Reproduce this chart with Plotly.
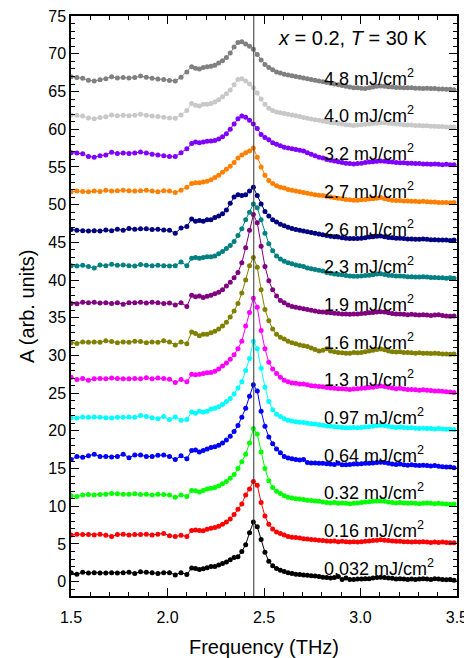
import plotly.graph_objects as go

# ---------------- data ----------------
FREQ = [1.50, 1.53, 1.56, 1.59, 1.62, 1.65, 1.68, 1.71, 1.74, 1.77, 1.80, 1.83, 1.86, 1.89, 1.92, 1.95, 1.98, 2.01, 2.04, 2.07, 2.10,
        2.125, 2.145, 2.165, 2.185, 2.205, 2.225, 2.245, 2.265, 2.285, 2.305,
        2.325, 2.345, 2.365, 2.385, 2.405, 2.425, 2.445, 2.465, 2.485, 2.505,
        2.525, 2.545, 2.565, 2.585, 2.605, 2.625, 2.645, 2.665, 2.685, 2.705,
        2.725, 2.745, 2.765, 2.785, 2.805, 2.825, 2.845, 2.865, 2.885, 2.905,
        2.925, 2.945, 2.965, 2.985, 3.005, 3.025, 3.045, 3.065, 3.085, 3.105,
        3.125, 3.145, 3.165, 3.185, 3.205, 3.225, 3.245, 3.265, 3.285, 3.305,
        3.325, 3.345, 3.365, 3.385, 3.405, 3.425, 3.445, 3.465, 3.485]

A_0032 = [1.2, 1.0, 1.25, 1.15, 1.2, 1.15, 1.15, 1.2, 1.15, 1.2, 1.25, 1.1, 1.3, 1.25, 1.2, 1.1, 1.2, 1.2, 0.9, 1.2, 0.95,
          1.8, 1.75, 1.6, 1.7, 1.85, 2.0, 2.0, 2.2, 2.4, 2.6,
          2.9, 3.2, 3.3, 4.0, 4.9, 6.5, 7.9, 7.3, 5.6, 3.9,
          2.7, 2.1, 1.75, 1.5, 1.35, 1.2, 1.1, 1.0, 0.95, 0.9,
          0.85, 0.8, 0.75, 0.7, 0.6, 0.55, 0.5, 0.55, 0.7, 0.3,
          0.5, 0.3, 0.3, 0.35, 0.35, 0.4, 0.4, 0.5, 0.55, 0.6,
          0.55, 0.5, 0.45, 0.35, 0.4, 0.35, 0.3, 0.35, 0.3, 0.35,
          0.4, 0.35, 0.3, 0.4, 0.35, 0.3, 0.25, 0.3, 0.2]

A_016 = [6.2, 6.3, 6.25, 6.25, 6.2, 6.3, 6.15, 6.0, 6.25, 6.3, 6.2, 6.25, 6.25, 6.3, 6.2, 6.3, 6.4, 6.1, 6.0, 6.15, 6.0,
         6.8, 6.85, 6.8, 6.75, 6.95, 7.1, 7.2, 7.35, 7.6, 7.9,
         8.3, 8.9, 9.6, 10.3, 11.5, 12.3, 13.3, 12.8, 10.5, 8.7,
         7.6, 7.0, 6.6, 6.4, 6.2, 6.0, 5.9, 5.85, 5.8, 5.7,
         5.65, 5.6, 5.55, 5.5, 5.45, 5.4, 5.35, 5.4, 5.3, 5.35,
         5.3, 5.25, 5.3, 5.25, 5.3, 5.35, 5.4, 5.45, 5.5, 5.55,
         5.5, 5.45, 5.4, 5.35, 5.35, 5.3, 5.3, 5.25, 5.3, 5.25,
         5.3, 5.25, 5.2, 5.25, 5.2, 5.25, 5.2, 5.15, 5.15]

A_032 = [11.4, 11.3, 11.5, 11.55, 11.5, 11.55, 11.6, 11.7, 11.65, 11.6, 11.6, 11.65, 11.55, 11.6, 11.5, 11.6, 11.55, 11.5, 11.2, 11.5, 11.3,
         12.1, 12.05, 11.9, 12.1, 12.3, 12.4, 12.5, 12.7, 13.0, 13.3,
         13.7, 14.2, 15.0, 15.9, 16.9, 18.4, 20.3, 19.6, 17.2, 15.0,
         13.4, 12.5, 12.0, 11.7, 11.4, 11.2, 11.1, 11.0, 10.95, 10.9,
         10.8, 10.75, 10.7, 10.65, 10.55, 10.5, 10.45, 10.5, 10.4, 10.45,
         10.4, 10.35, 10.4, 10.45, 10.5, 10.55, 10.6, 10.65, 10.7, 10.7,
         10.65, 10.55, 10.5, 10.45, 10.5, 10.45, 10.4, 10.45, 10.4, 10.35,
         10.4, 10.45, 10.4, 10.35, 10.4, 10.35, 10.3, 10.25, 10.3]

A_064 = [16.2, 16.6, 16.5, 16.7, 16.9, 16.6, 16.6, 16.55, 16.6, 16.9, 16.45, 16.8, 16.8, 16.6, 16.6, 16.75, 16.8, 16.6, 16.2, 16.7, 16.3,
         17.4, 17.45, 17.2, 17.4, 17.6, 17.8, 17.9, 18.1, 18.4, 18.8,
         19.3, 19.9, 20.7, 21.8, 23.0, 24.6, 26.1, 25.3, 22.6, 20.6,
         19.2, 18.3, 17.6, 17.1, 16.6, 16.4, 16.3, 16.2, 16.15, 16.2,
         15.8, 15.75, 15.75, 15.7, 15.7, 15.65, 15.6, 15.55, 15.7, 15.5,
         15.5, 15.55, 15.6, 15.6, 15.65, 15.7, 15.7, 15.75, 15.8, 15.85,
         15.8, 15.7, 15.6, 15.55, 15.6, 15.5, 15.45, 15.5, 15.45, 15.4,
         15.45, 15.4, 15.35, 15.4, 15.3, 15.25, 15.2, 15.2, 15.1]

A_097 = [21.75, 21.7, 21.85, 21.8, 21.85, 21.8, 21.75, 21.7, 21.8, 21.8, 21.85, 21.8, 22.05, 21.9, 21.75, 21.6, 21.9, 21.5, 21.85, 21.4, 21.5,
         22.5, 22.35, 22.6, 22.5, 22.6, 22.9, 23.0, 23.2, 23.5, 23.9,
         24.3, 24.9, 25.7, 26.5, 28.0, 29.6, 31.9, 30.9, 28.3, 25.8,
         23.9, 22.8, 22.2, 21.9, 21.6, 21.4, 21.3, 21.2, 21.15, 21.1,
         21.0, 20.95, 20.9, 20.8, 20.75, 20.65, 20.6, 20.55, 20.5, 20.45,
         20.4, 20.4, 20.45, 20.4, 20.45, 20.5, 20.55, 20.6, 20.7, 20.75,
         20.7, 20.6, 20.5, 20.45, 20.5, 20.45, 20.4, 20.4, 20.35, 20.3,
         20.35, 20.3, 20.3, 20.25, 20.3, 20.25, 20.2, 20.2, 20.15]

A_13 = [27.1, 26.8, 26.95, 26.7, 26.9, 26.95, 26.9, 27.0, 26.95, 26.9, 26.9, 26.95, 26.9, 27.05, 26.9, 27.0, 26.95, 26.85, 26.4, 26.8, 26.5,
        27.5, 27.45, 27.5, 27.6, 27.7, 27.75, 27.9, 28.2, 28.6, 29.0,
        29.5, 30.1, 30.9, 31.9, 33.9, 35.7, 37.6, 36.4, 33.3, 30.9,
        29.1, 28.2, 27.6, 27.1, 26.7, 26.5, 26.35, 26.3, 26.2, 26.2,
        26.1, 26.0, 25.95, 25.9, 25.85, 25.75, 25.7, 25.65, 25.6, 25.6,
        25.55, 25.5, 25.55, 25.6, 25.65, 25.7, 25.75, 25.8, 25.9, 25.95,
        25.9, 25.8, 25.7, 25.6, 25.65, 25.55, 25.5, 25.5, 25.45, 25.4,
        25.45, 25.4, 25.35, 25.3, 25.3, 25.25, 25.2, 25.15, 25.1]

A_16 = [31.7, 31.6, 31.8, 31.75, 31.8, 31.75, 31.95, 31.85, 31.7, 31.8, 31.75, 31.9, 31.85, 31.7, 31.8, 31.75, 31.95, 31.8, 31.4, 31.8, 31.55,
        33.1, 32.9, 32.6, 32.8, 32.8, 33.0, 33.2, 33.5, 33.9, 34.4,
        35.1, 35.9, 36.9, 38.3, 40.0, 41.9, 43.0, 41.7, 38.7, 36.1,
        34.6, 33.5, 32.8, 32.4, 32.2, 31.9, 31.7, 31.55, 31.4, 31.3,
        31.2, 31.0, 30.8, 30.6, 30.7, 30.9, 30.6, 30.5, 30.4, 30.35,
        30.3, 30.3, 30.4, 30.35, 30.4, 30.5, 30.6, 30.7, 30.8, 30.85,
        30.75, 30.6, 30.5, 30.45, 30.5, 30.4, 30.4, 30.35, 30.3, 30.35,
        30.3, 30.3, 30.25, 30.3, 30.25, 30.2, 30.2, 30.15, 30.2]

A_19 = [36.9, 36.85, 37.05, 37.0, 37.05, 36.95, 37.0, 36.9, 37.0, 36.8, 37.0, 37.0, 37.05, 36.95, 37.05, 37.0, 36.9, 36.95, 36.7, 37.0, 36.5,
        38.0, 37.8, 37.9, 37.7, 37.85, 38.0, 38.2, 38.4, 38.7, 39.2,
        39.7, 40.3, 41.0, 42.3, 44.3, 46.6, 48.7, 47.6, 44.5, 41.8,
        39.9, 38.7, 37.9, 37.3, 37.0, 36.7, 36.5, 36.4, 36.3, 36.2,
        36.1, 36.0, 35.9, 35.8, 35.75, 35.7, 35.65, 35.6, 35.55, 35.5,
        35.5, 35.45, 35.5, 35.5, 35.55, 35.6, 35.65, 35.7, 35.75, 35.8,
        35.75, 35.65, 35.55, 35.5, 35.5, 35.45, 35.4, 35.45, 35.4, 35.35,
        35.4, 35.35, 35.3, 35.35, 35.4, 35.3, 35.25, 35.2, 35.25]

A_23 = [41.9, 41.85, 41.95, 41.8, 41.6, 42.0, 41.9, 42.1, 41.95, 42.0, 41.9, 41.85, 42.05, 41.95, 41.9, 41.95, 41.9, 41.85, 41.9, 42.4, 41.9,
        42.9, 43.0, 42.9, 43.0, 43.1, 43.1, 43.2, 43.5, 43.8, 44.2,
        44.6, 45.1, 45.9, 46.8, 48.0, 49.0, 50.1, 49.6, 48.0, 46.2,
        44.8, 43.9, 43.2, 42.8, 42.5, 42.3, 42.15, 42.0, 41.9, 41.8,
        41.6, 41.5, 41.4, 41.3, 41.2, 41.0, 40.9, 40.8, 40.75, 40.7,
        40.6, 40.55, 40.5, 40.5, 40.55, 40.6, 40.65, 40.7, 40.8, 40.85,
        40.75, 40.65, 40.6, 40.55, 40.55, 40.5, 40.45, 40.45, 40.4, 40.4,
        40.45, 40.4, 40.35, 40.35, 40.3, 40.3, 40.25, 40.3, 40.25]

A_26 = [46.7, 46.6, 46.55, 46.5, 46.55, 46.5, 46.65, 46.55, 46.75, 46.6, 46.85, 46.75, 46.8, 46.8, 46.7, 46.75, 46.65, 46.6, 46.2, 46.9, 47.1,
        48.1, 47.8, 47.9, 47.8, 48.0, 48.0, 48.3, 48.5, 48.8, 49.3,
        50.2, 51.0, 51.3, 51.2, 51.3, 51.8, 52.3, 51.2, 50.1, 49.1,
        48.5, 48.0, 47.7, 47.4, 47.2, 47.0, 46.85, 46.7, 46.6, 46.5,
        46.4, 46.3, 46.2, 46.1, 46.0, 45.9, 45.8, 45.75, 45.7, 45.6,
        45.55, 45.5, 45.5, 45.5, 45.55, 45.6, 45.7, 45.75, 45.8, 45.85,
        45.75, 45.65, 45.6, 45.55, 45.55, 45.5, 45.45, 45.45, 45.4, 45.4,
        45.45, 45.4, 45.35, 45.35, 45.3, 45.3, 45.3, 45.25, 45.3]

A_27 = [51.7, 51.8, 51.75, 51.7, 51.8, 51.75, 51.9, 51.8, 51.85, 51.9, 51.85, 51.8, 51.85, 51.9, 51.8, 51.7, 51.85, 51.8, 51.6, 51.9, 52.3,
        52.8, 52.9, 52.9, 53.0, 53.1, 53.3, 53.6, 53.9, 54.3, 54.7,
        55.1, 55.6, 56.2, 56.6, 56.9, 57.1, 57.5, 56.3, 55.0, 53.9,
        53.2, 52.8, 52.5, 52.3, 52.2, 52.0, 51.9, 51.8, 51.7, 51.6,
        51.5, 51.4, 51.3, 51.25, 51.2, 51.1, 51.0, 50.9, 50.85, 50.8,
        50.7, 50.65, 50.6, 50.6, 50.65, 50.7, 50.75, 50.8, 50.85, 50.95,
        50.8, 50.7, 50.6, 50.55, 50.55, 50.5, 50.5, 50.45, 50.45, 50.4,
        50.45, 50.4, 50.35, 50.35, 50.3, 50.3, 50.3, 50.25, 50.3]

A_32 = [56.9, 56.85, 56.75, 56.4, 56.3, 56.5, 56.6, 56.95, 56.8, 56.85, 56.8, 56.85, 57.0, 56.85, 56.7, 56.6, 56.5, 56.4, 56.4, 56.9, 57.4,
        58.1, 58.3, 58.2, 58.3, 58.4, 58.45, 58.5, 58.7, 59.0, 59.4,
        60.0, 60.7, 61.4, 61.75, 61.6, 61.2, 60.7, 60.1, 59.3, 58.9,
        58.6, 58.2, 58.0, 57.8, 57.6, 57.5, 57.4, 57.3, 57.2, 57.1,
        56.9, 56.7, 56.5, 56.3, 56.2, 56.0, 55.9, 55.8, 55.7, 55.6,
        55.5, 55.45, 55.4, 55.45, 55.5, 55.6, 55.65, 55.7, 55.75, 55.8,
        55.75, 55.7, 55.65, 55.6, 55.55, 55.55, 55.5, 55.5, 55.45, 55.45,
        55.4, 55.4, 55.35, 55.4, 55.35, 55.3, 55.35, 55.3, 55.3]

A_40 = [61.9, 61.85, 61.75, 61.5, 61.4, 61.55, 61.65, 61.9, 61.8, 61.85, 61.8, 61.85, 62.0, 61.85, 61.75, 61.7, 61.6, 61.5, 61.45, 61.9, 62.5,
        63.4, 63.2, 63.1, 63.3, 63.3, 63.4, 63.6, 63.9, 64.3, 64.7,
        65.2, 65.9, 66.6, 66.7, 66.4, 66.0, 65.5, 64.8, 64.0, 63.3,
        62.8, 62.5, 62.3, 62.2, 62.1, 62.0, 61.9, 61.8, 61.7, 61.55,
        61.45, 61.35, 61.25, 61.2, 61.1, 61.0, 60.9, 60.85, 60.75, 60.7,
        60.6, 60.55, 60.5, 60.55, 60.6, 60.65, 60.7, 60.75, 60.8, 60.85,
        60.85, 60.8, 60.75, 60.7, 60.65, 60.6, 60.55, 60.55, 60.5, 60.5,
        60.45, 60.45, 60.4, 60.4, 60.35, 60.35, 60.3, 60.3, 60.3]

A_48 = [66.95, 66.85, 66.75, 66.5, 66.4, 66.55, 66.7, 66.95, 66.8, 66.85, 66.8, 66.85, 67.05, 66.9, 66.75, 66.65, 66.6, 66.45, 66.4, 66.9, 67.6,
        68.3, 68.1, 68.0, 68.2, 68.3, 68.35, 68.5, 68.8, 69.1, 69.5,
        70.1, 70.9, 71.5, 71.6, 71.3, 71.0, 70.6, 69.9, 69.2, 68.6,
        68.2, 67.9, 67.6, 67.45, 67.3, 67.2, 67.1, 67.0, 66.9, 66.8,
        66.7, 66.6, 66.5, 66.4, 66.3, 66.2, 66.1, 66.0, 65.9, 65.8,
        65.7, 65.6, 65.5, 65.5, 65.45, 65.4, 65.5, 65.6, 65.7, 65.75,
        65.7, 65.65, 65.6, 65.55, 65.55, 65.5, 65.5, 65.5, 65.45, 65.45,
        65.4, 65.45, 65.4, 65.4, 65.35, 65.35, 65.3, 65.3, 65.25]

FLUENCE_LABELS = ["0.032", "0.16", "0.32", "0.64", "0.97", "1.3", "1.6",
                  "1.9", "2.3", "2.6", "2.7", "3.2", "4.0", "4.8"]
SERIES = [A_0032, A_016, A_032, A_064, A_097, A_13, A_16,
          A_19, A_23, A_26, A_27, A_32, A_40, A_48]
COLORS = ["#000000", "#ff0000", "#00ff00", "#0000ff", "#00ffff", "#ff00ff", "#808000",
          "#800080", "#008080", "#000080", "#ff8000", "#8000ff", "#c8c8c8", "#808080"]

X_TICKS = [1.5, 2.0, 2.5, 3.0, 3.5]
Y_TICKS = list(range(0, 80, 5))
PEAK_LINE_FREQ = 2.447

for s in SERIES:
    assert len(s) == len(FREQ), (len(s), len(FREQ))

FONT = "Arial"

fig = go.Figure()
for vals, col in zip(SERIES, COLORS):
    fig.add_trace(go.Scatter(
        x=FREQ, y=vals, mode="lines+markers",
        line=dict(color=col, width=1),
        marker=dict(color=col, size=5, symbol="circle"),
        showlegend=False, hoverinfo="skip"))

# vertical reference line
fig.add_shape(type="line", xref="x", yref="paper", x0=PEAK_LINE_FREQ, x1=PEAK_LINE_FREQ,
              y0=0, y1=1, line=dict(color="#333333", width=1))

# fluence labels
LABEL_X = 2.80
LABEL_Y0 = 1.9
LABEL_STEP = 5.0
for k, lab in enumerate(FLUENCE_LABELS):
    fig.add_annotation(x=LABEL_X, y=LABEL_Y0 + LABEL_STEP * k, xref="x", yref="y",
                       text=f"{lab} mJ/cm<sup>2</sup>", showarrow=False,
                       xanchor="left", yanchor="middle",
                       font=dict(family=FONT, size=18, color="black"))

fig.add_annotation(x=2.56, y=72.1, xref="x", yref="y",
                   text="<i>x</i> = 0.2, <i>T</i> = 30 K", showarrow=False,
                   xanchor="left", yanchor="middle",
                   font=dict(family=FONT, size=20, color="black"))

# y-axis title placed as a rotated annotation (the axis title is clamped to the margin)
fig.add_annotation(x=-0.114, y=0.5, xref="paper", yref="paper",
                   text="A (arb. units)", textangle=-90, showarrow=False,
                   xanchor="center", yanchor="middle",
                   font=dict(family=FONT, size=20, color="black"))

axis_common = dict(showline=True, linecolor="black", linewidth=1.5, mirror="allticks",
                   ticks="inside", ticklen=8, tickwidth=1.2, tickcolor="black",
                   showgrid=False, zeroline=False, automargin=False,
                   ticklabeloverflow="allow",
                   tickfont=dict(family=FONT, size=16, color="black"))

fig.update_xaxes(range=[1.4995, 3.5005], tickvals=X_TICKS, ticktext=[f"{v:.1f}" for v in X_TICKS],
                 ticklabelstandoff=6,
                 minor=dict(dtick=0.1, tick0=1.5, ticks="inside", ticklen=4, tickcolor="black", tickwidth=1),
                 title=dict(text="Frequency (THz)", font=dict(family=FONT, size=20, color="black"), standoff=20),
                 **axis_common)
fig.update_yaxes(range=[-1.9, 75.02], tickvals=Y_TICKS,
                 minor=dict(dtick=1, tick0=0, ticks="inside", ticklen=4, tickcolor="black", tickwidth=1),
                 **axis_common)

# the page adds an 8 px body margin, so the figure is offset by 8 px
fig.update_layout(width=464, height=650, margin=dict(l=63, r=15, t=8, b=62),
                  paper_bgcolor="white", plot_bgcolor="white",
                  font=dict(family=FONT, color="black"))

fig.write_html("out.html")
